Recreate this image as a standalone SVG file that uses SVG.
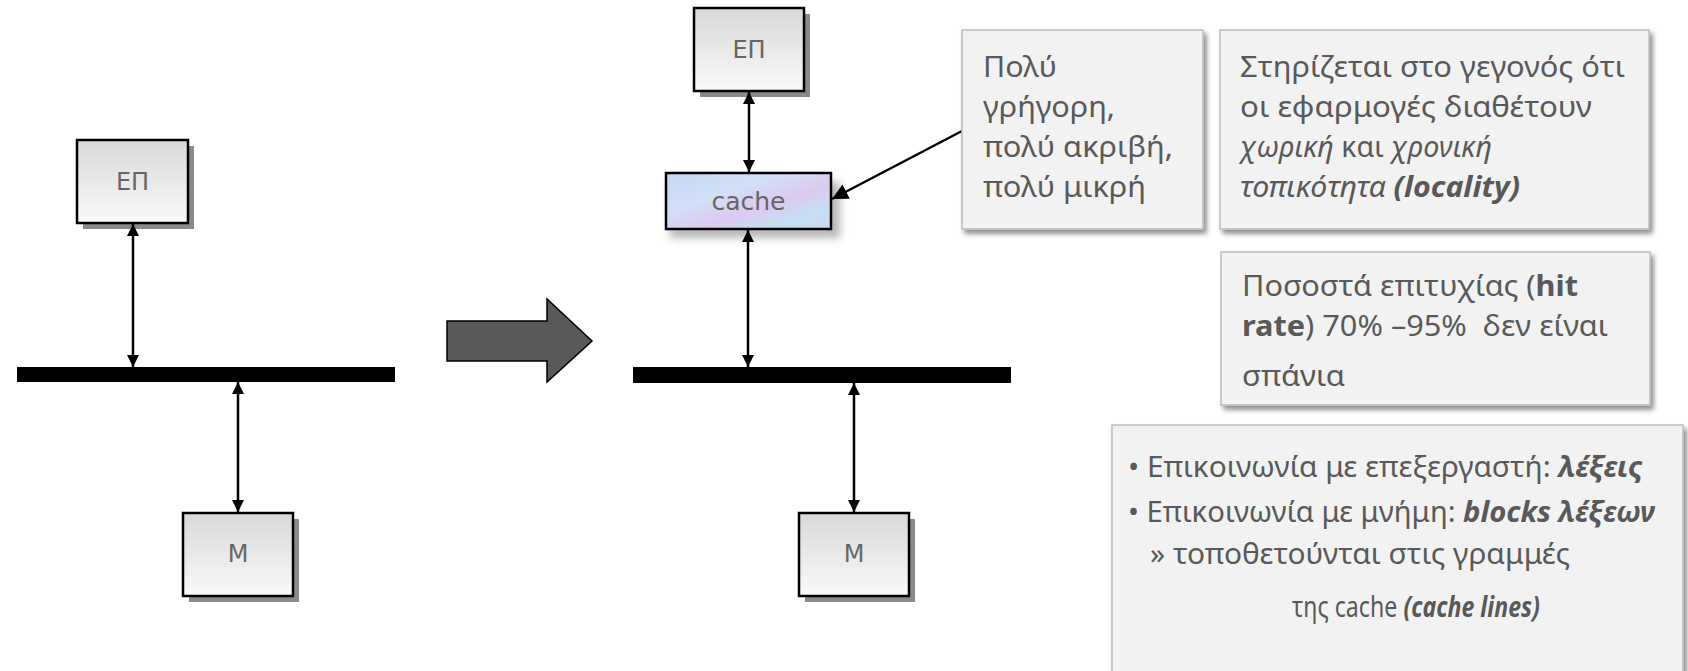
<svg xmlns="http://www.w3.org/2000/svg" width="1688" height="671" viewBox="0 0 1688 671">
  <defs>
    <linearGradient id="boxFill" x1="0" y1="0" x2="0" y2="1">
      <stop offset="0" stop-color="#d9d9d9"/>
      <stop offset="1" stop-color="#f9f9f9"/>
    </linearGradient>
    <linearGradient id="cacheFill" x1="0" y1="0" x2="1" y2="1">
      <stop offset="0" stop-color="#c6d6f4"/>
      <stop offset="0.35" stop-color="#d2e0f7"/>
      <stop offset="0.6" stop-color="#dcc9ef"/>
      <stop offset="0.8" stop-color="#c4e0f2"/>
      <stop offset="1" stop-color="#cfd6f3"/>
    </linearGradient>
    <filter id="softShadow" x="-10%" y="-10%" width="130%" height="140%">
      <feDropShadow dx="3" dy="4" stdDeviation="2.5" flood-color="#000" flood-opacity="0.45"/>
    </filter>
    <filter id="blur4" x="-20%" y="-50%" width="140%" height="200%">
      <feGaussianBlur stdDeviation="4"/>
    </filter>
    <marker id="head" viewBox="0 0 10 10" refX="10" refY="5" markerWidth="12" markerHeight="12" markerUnits="userSpaceOnUse" orient="auto-start-reverse">
      <path d="M0,0 L10,5 L0,10 z" fill="#000"/>
    </marker>
    <marker id="headBig" viewBox="0 0 10 10" refX="10" refY="5" markerWidth="16" markerHeight="16" markerUnits="userSpaceOnUse" orient="auto">
      <path d="M0,0 L10,5 L0,10 z" fill="#000"/>
    </marker>
  </defs>
  <style>
    .node { fill: url(#boxFill); stroke: #000; stroke-width: 2.5; }
    .shade { fill: #8a8a8a; }
    .nlabel { font-family: "DejaVu Sans", "Liberation Sans", sans-serif; font-size: 24px; fill: #666; text-anchor: middle; }
    .bus { fill: #000; }
    .link { stroke: #000; stroke-width: 2.5; fill: none; }
    .note { fill: #f2f2f2; stroke: #bdbdbd; stroke-width: 1.5; filter: url(#softShadow); }
    .txt { font-family: "Noto Sans", "Open Sans", "DejaVu Sans", sans-serif; font-size: 29px; fill: #595959; }
    .it { font-style: italic; }
    .bd { font-weight: bold; }
  </style>

  <!-- left configuration: processor and memory on a bus -->
  <g id="cpu-left">
    <rect class="shade" x="83" y="146" width="111" height="83"/>
    <rect class="node" x="77" y="140" width="111" height="83"/>
    <text class="nlabel" x="132.5" y="190">ΕΠ</text>
  </g>
  <g id="bus-left">
    <rect class="bus" x="17" y="367" width="378" height="15"/>
  </g>
  <g id="mem-left">
    <rect class="shade" x="189" y="519" width="110" height="83"/>
    <rect class="node" x="183" y="513" width="110" height="83"/>
    <text class="nlabel" x="238" y="562">Μ</text>
  </g>

  <!-- transition arrow -->
  <g id="transition">
    <polygon points="447,321 547,321 547,299 592,341 547,382 547,361 447,361" fill="#595959" stroke="#000" stroke-width="1.5"/>
  </g>

  <!-- right configuration: processor, cache, bus, memory -->
  <g id="cpu-right">
    <rect class="shade" x="700" y="14" width="110" height="83"/>
    <rect class="node" x="694" y="8" width="110" height="83"/>
    <text class="nlabel" x="749" y="58">ΕΠ</text>
  </g>
  <g id="cache">
    <rect x="670" y="182" width="170" height="56" fill="#7a7a7a" opacity="0.55" filter="url(#blur4)"/>
    <rect x="666" y="173" width="165" height="56" fill="url(#cacheFill)" stroke="#000" stroke-width="2.5"/>
    <text class="nlabel" x="748.5" y="210" style="font-size:25px">cache</text>
  </g>
  <g id="bus-right">
    <rect class="bus" x="633" y="367" width="378" height="16"/>
  </g>
  <g id="mem-right">
    <rect class="shade" x="805" y="519" width="110" height="83"/>
    <rect class="node" x="799" y="513" width="110" height="83"/>
    <text class="nlabel" x="854" y="562">Μ</text>
  </g>

  <!-- connectors -->
  <g id="connectors">
    <line class="link" x1="133" y1="224" x2="133" y2="367" marker-start="url(#head)" marker-end="url(#head)"/>
    <line class="link" x1="238" y1="382" x2="238" y2="512" marker-start="url(#head)" marker-end="url(#head)"/>
    <line class="link" x1="749" y1="92" x2="749" y2="172" marker-start="url(#head)" marker-end="url(#head)"/>
    <line class="link" x1="748" y1="230" x2="748" y2="367" marker-start="url(#head)" marker-end="url(#head)"/>
    <line class="link" x1="854" y1="383" x2="854" y2="512" marker-start="url(#head)" marker-end="url(#head)"/>
    <line class="link" x1="962" y1="131" x2="832" y2="199" marker-end="url(#headBig)"/>
  </g>

  <!-- annotation boxes -->
  <g id="note-speed">
    <rect class="note" x="962" y="30" width="241" height="199"/>
    <text class="txt" x="983" y="77" textLength="74" lengthAdjust="spacingAndGlyphs">Πολύ</text>
    <text class="txt" x="983" y="117" textLength="132" lengthAdjust="spacingAndGlyphs">γρήγορη,</text>
    <text class="txt" x="983" y="157" textLength="190" lengthAdjust="spacingAndGlyphs">πολύ ακριβή,</text>
    <text class="txt" x="983" y="197" textLength="163" lengthAdjust="spacingAndGlyphs">πολύ μικρή</text>
  </g>
  <g id="note-locality">
    <rect class="note" x="1220" y="30" width="429" height="199"/>
    <text class="txt" x="1240" y="77" textLength="385" lengthAdjust="spacingAndGlyphs">Στηρίζεται στο γεγονός ότι</text>
    <text class="txt" x="1240" y="117" textLength="352" lengthAdjust="spacingAndGlyphs">οι εφαρμογές διαθέτουν</text>
    <text class="txt" x="1240" y="157" textLength="252" lengthAdjust="spacingAndGlyphs"><tspan class="it">χωρική</tspan> και <tspan class="it">χρονική</tspan></text>
    <text class="txt" x="1240" y="197" textLength="280" lengthAdjust="spacingAndGlyphs"><tspan class="it">τοπικότητα </tspan><tspan class="it bd">(locality)</tspan></text>
  </g>
  <g id="note-hitrate">
    <rect class="note" x="1221" y="252" width="429" height="153"/>
    <text class="txt" x="1242" y="296" textLength="336" lengthAdjust="spacingAndGlyphs">Ποσοστά επιτυχίας (<tspan class="bd">hit</tspan></text>
    <text class="txt" x="1242" y="336" textLength="366" lengthAdjust="spacingAndGlyphs" xml:space="preserve"><tspan class="bd">rate</tspan>) 70% –95%  δεν είναι</text>
    <text class="txt" x="1242" y="386" textLength="103" lengthAdjust="spacingAndGlyphs">σπάνια</text>
  </g>
  <g id="note-blocks">
    <rect class="note" x="1112" y="425" width="571" height="262"/>
    <text class="txt" x="1128" y="477" textLength="515" lengthAdjust="spacingAndGlyphs">• Επικοινωνία με επεξεργαστή: <tspan class="it bd">λέξεις</tspan></text>
    <text class="txt" x="1128" y="522" textLength="527" lengthAdjust="spacingAndGlyphs">• Επικοινωνία με μνήμη: <tspan class="it bd">blocks λέξεων</tspan></text>
    <text class="txt" x="1150" y="564" textLength="420" lengthAdjust="spacingAndGlyphs">» τοποθετούνται στις γραμμές</text>
    <text class="txt" x="1292" y="617" textLength="248" lengthAdjust="spacingAndGlyphs">της cache <tspan class="it bd">(cache lines)</tspan></text>
  </g>
</svg>
